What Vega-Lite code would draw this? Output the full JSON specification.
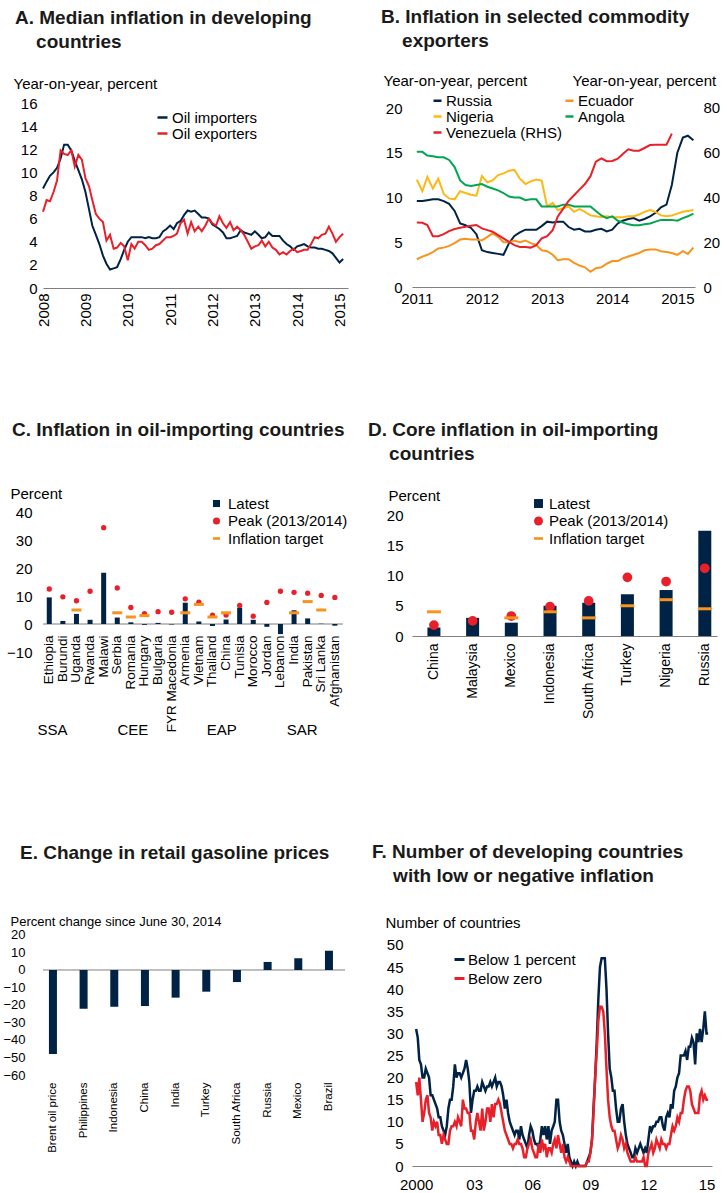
{
"$schema": "https://vega.github.io/schema/vega-lite/v6.json",
"autosize": {"type": "none"},
"padding": {"left": 43, "top": 103, "right": 684, "bottom": 1090},
"background": "white",
"columns": 2,
"bounds": "flush",
"spacing": {"row": 224, "column": 64},
"resolve": {"scale": {"color": "independent", "shape": "independent"}, "legend": {"color": "independent", "shape": "independent"}},
"config": {
 "font": "Liberation Sans",
 "view": {"stroke": null},
 "axis": {"grid": false, "ticks": false, "labelFontSize": 15, "labelColor": "#000000", "titleFontSize": 15, "titleFontWeight": "normal", "titleColor": "#000000", "domainColor": "#7f7f7f", "domainWidth": 1, "labelOverlap": false, "labelFlush": false, "labelBound": false},
 "axisY": {"domain": false, "titleAngle": 0, "titleAlign": "left", "titleBaseline": "middle"},
 "legend": {"labelFontSize": 15, "labelColor": "#000000", "padding": 0, "offset": 0},
 "title": {"fontSize": 19, "fontWeight": "bold", "color": "#1a1a1a", "anchor": "start", "frame": "group", "lineHeight": 24}
},
"concat": [
{
 "width": 305, "height": 185,
 "title": {"text": ["A. Median inflation in developing", "\u200b\u00a0\u00a0\u00a0\u00a0countries"], "dx": -28, "offset": 24},
 "data": {"values": [
{"d":"2008-01","importers":8.6,"exporters":6.6},{"d":"2008-02","importers":9.2,"exporters":7.6},{"d":"2008-03","importers":9.7,"exporters":7.5},{"d":"2008-04","importers":10.0,"exporters":8.3},{"d":"2008-05","importers":10.4,"exporters":9.3},{"d":"2008-06","importers":11.2,"exporters":11.9},{"d":"2008-07","importers":12.4,"exporters":11.6},{"d":"2008-08","importers":12.4,"exporters":11.5},{"d":"2008-09","importers":11.9,"exporters":11.9},{"d":"2008-10","importers":11.0,"exporters":10.5},{"d":"2008-11","importers":10.2,"exporters":11.5},{"d":"2008-12","importers":9.4,"exporters":11.1},
{"d":"2009-01","importers":8.3,"exporters":9.5},{"d":"2009-02","importers":6.8,"exporters":8.8},{"d":"2009-03","importers":5.4,"exporters":7.6},{"d":"2009-04","importers":4.6,"exporters":6.4},{"d":"2009-05","importers":3.8,"exporters":6.0},{"d":"2009-06","importers":2.8,"exporters":5.7},{"d":"2009-07","importers":2.1,"exporters":4.1},{"d":"2009-08","importers":1.6,"exporters":4.6},{"d":"2009-09","importers":1.7,"exporters":3.4},{"d":"2009-10","importers":1.8,"exporters":3.5},{"d":"2009-11","importers":2.5,"exporters":3.9},{"d":"2009-12","importers":3.3,"exporters":3.6},
{"d":"2010-01","importers":4.0,"exporters":2.4},{"d":"2010-02","importers":4.4,"exporters":3.8},{"d":"2010-03","importers":4.4,"exporters":3.4},{"d":"2010-04","importers":4.4,"exporters":4.0},{"d":"2010-05","importers":4.4,"exporters":4.0},{"d":"2010-06","importers":4.3,"exporters":3.7},{"d":"2010-07","importers":4.4,"exporters":3.3},{"d":"2010-08","importers":4.3,"exporters":3.4},{"d":"2010-09","importers":4.3,"exporters":3.7},{"d":"2010-10","importers":4.4,"exporters":3.8},{"d":"2010-11","importers":4.9,"exporters":4.1},{"d":"2010-12","importers":5.1,"exporters":4.4},
{"d":"2011-01","importers":5.4,"exporters":4.4},{"d":"2011-02","importers":5.1,"exporters":4.5},{"d":"2011-03","importers":5.6,"exporters":4.7},{"d":"2011-04","importers":5.8,"exporters":5.6},{"d":"2011-05","importers":6.3,"exporters":5.9},{"d":"2011-06","importers":6.7,"exporters":4.7},{"d":"2011-07","importers":6.6,"exporters":5.7},{"d":"2011-08","importers":6.7,"exporters":4.9},{"d":"2011-09","importers":6.4,"exporters":5.3},{"d":"2011-10","importers":6.1,"exporters":4.9},{"d":"2011-11","importers":6.1,"exporters":5.4},{"d":"2011-12","importers":6.0,"exporters":6.0},
{"d":"2012-01","importers":5.5,"exporters":5.6},{"d":"2012-02","importers":5.3,"exporters":5.4},{"d":"2012-03","importers":5.1,"exporters":6.2},{"d":"2012-04","importers":4.8,"exporters":5.6},{"d":"2012-05","importers":4.3,"exporters":5.2},{"d":"2012-06","importers":4.3,"exporters":5.7},{"d":"2012-07","importers":4.4,"exporters":5.0},{"d":"2012-08","importers":4.5,"exporters":5.3},{"d":"2012-09","importers":5.0,"exporters":5.0},{"d":"2012-10","importers":4.8,"exporters":4.6},{"d":"2012-11","importers":4.7,"exporters":4.0},{"d":"2012-12","importers":4.6,"exporters":3.4},
{"d":"2013-01","importers":4.9,"exporters":3.6},{"d":"2013-02","importers":4.6,"exporters":3.7},{"d":"2013-03","importers":4.3,"exporters":4.1},{"d":"2013-04","importers":4.4,"exporters":3.6},{"d":"2013-05","importers":4.8,"exporters":4.0},{"d":"2013-06","importers":4.5,"exporters":3.5},{"d":"2013-07","importers":4.5,"exporters":3.3},{"d":"2013-08","importers":4.5,"exporters":2.9},{"d":"2013-09","importers":4.1,"exporters":3.1},{"d":"2013-10","importers":3.8,"exporters":2.9},{"d":"2013-11","importers":3.6,"exporters":3.2},{"d":"2013-12","importers":3.3,"exporters":3.4},
{"d":"2014-01","importers":3.6,"exporters":3.1},{"d":"2014-02","importers":3.7,"exporters":3.2},{"d":"2014-03","importers":3.8,"exporters":3.3},{"d":"2014-04","importers":3.6,"exporters":3.3},{"d":"2014-05","importers":3.5,"exporters":3.8},{"d":"2014-06","importers":3.5,"exporters":4.4},{"d":"2014-07","importers":3.4,"exporters":4.3},{"d":"2014-08","importers":3.4,"exporters":4.6},{"d":"2014-09","importers":3.3,"exporters":4.7},{"d":"2014-10","importers":3.2,"exporters":5.3},{"d":"2014-11","importers":3.0,"exporters":4.7},{"d":"2014-12","importers":2.6,"exporters":4.0},
{"d":"2015-01","importers":2.2,"exporters":4.4},{"d":"2015-02","importers":2.5,"exporters":4.7}
 ]},
 "transform": [{"fold": ["importers", "exporters"], "as": ["series", "value"]}],
 "mark": {"type": "line", "strokeWidth": 2},
 "encoding": {
  "x": {"field": "d", "type": "temporal", "scale": {"type": "utc", "nice": false, "domain": [{"year": 2008, "month": 1, "date": 1, "utc": true}, {"year": 2015, "month": 3, "date": 15, "utc": true}]},
        "axis": {"title": null, "format": "%Y", "labelAngle": 270, "labelPadding": 5, "values": [{"year": 2008, "utc": true}, {"year": 2009, "utc": true}, {"year": 2010, "utc": true}, {"year": 2011, "utc": true}, {"year": 2012, "utc": true}, {"year": 2013, "utc": true}, {"year": 2014, "utc": true}, {"year": 2015, "utc": true}]}},
  "y": {"field": "value", "type": "quantitative", "scale": {"domain": [0, 16], "nice": false},
        "axis": {"values": [0, 2, 4, 6, 8, 10, 12, 14, 16], "title": "Year-on-year, percent", "titleX": -30, "titleY": -20, "labelPadding": 6}},
  "color": {"field": "series", "type": "nominal", "scale": {"domain": ["importers", "exporters"], "range": ["#002345", "#E8202A"]},
            "legend": {"title": null, "orient": "none", "legendX": 112, "legendY": 7, "labelExpr": "'Oil ' + datum.label", "symbolType": "stroke", "symbolStrokeWidth": 2.5, "symbolSize": 100, "labelOffset": 2, "rowPadding": 0}}
 }
},
{
 "width": 283, "height": 184,
 "title": {"text": ["B. Inflation in selected commodity", "\u200b\u00a0\u00a0\u00a0\u00a0exporters"], "dx": -31, "offset": 22},
 "layer": [
  {
   "data": {"values": [
{"d":"2011-01","Russia":9.6,"Ecuador":3.1,"Nigeria":12.0,"Angola":15.1},{"d":"2011-02","Russia":9.6,"Ecuador":3.4,"Nigeria":10.7,"Angola":15.1},{"d":"2011-03","Russia":9.7,"Ecuador":3.6,"Nigeria":12.3,"Angola":14.7},{"d":"2011-04","Russia":9.8,"Ecuador":3.9,"Nigeria":11.0,"Angola":14.6},{"d":"2011-05","Russia":9.8,"Ecuador":4.3,"Nigeria":12.1,"Angola":14.5},{"d":"2011-06","Russia":9.6,"Ecuador":4.4,"Nigeria":10.4,"Angola":14.5},{"d":"2011-07","Russia":9.3,"Ecuador":4.6,"Nigeria":9.9,"Angola":14.2},{"d":"2011-08","Russia":8.5,"Ecuador":4.9,"Nigeria":9.8,"Angola":13.4},{"d":"2011-09","Russia":7.1,"Ecuador":5.3,"Nigeria":10.7,"Angola":11.9},{"d":"2011-10","Russia":6.9,"Ecuador":5.4,"Nigeria":10.5,"Angola":11.4},{"d":"2011-11","Russia":6.6,"Ecuador":5.3,"Nigeria":10.3,"Angola":11.3},{"d":"2011-12","Russia":5.9,"Ecuador":5.3,"Nigeria":10.2,"Angola":11.4},
{"d":"2012-01","Russia":4.1,"Ecuador":5.2,"Nigeria":12.4,"Angola":11.5},{"d":"2012-02","Russia":3.9,"Ecuador":5.6,"Nigeria":11.7,"Angola":11.2},{"d":"2012-03","Russia":3.8,"Ecuador":6.0,"Nigeria":11.9,"Angola":11.0},{"d":"2012-04","Russia":3.7,"Ecuador":5.6,"Nigeria":12.5,"Angola":10.8},{"d":"2012-05","Russia":3.6,"Ecuador":5.0,"Nigeria":12.7,"Angola":10.5},{"d":"2012-06","Russia":4.9,"Ecuador":5.0,"Nigeria":13.0,"Angola":10.1},{"d":"2012-07","Russia":5.7,"Ecuador":5.2,"Nigeria":13.1,"Angola":10.0},{"d":"2012-08","Russia":6.1,"Ecuador":5.0,"Nigeria":12.1,"Angola":10.0},{"d":"2012-09","Russia":6.4,"Ecuador":5.2,"Nigeria":11.5,"Angola":9.7},{"d":"2012-10","Russia":6.4,"Ecuador":4.9,"Nigeria":11.8,"Angola":9.8},{"d":"2012-11","Russia":6.4,"Ecuador":4.7,"Nigeria":12.0,"Angola":9.8},{"d":"2012-12","Russia":6.8,"Ecuador":4.1,"Nigeria":11.9,"Angola":9.0},
{"d":"2013-01","Russia":7.3,"Ecuador":4.0,"Nigeria":9.0,"Angola":9.0},{"d":"2013-02","Russia":7.2,"Ecuador":3.6,"Nigeria":9.4,"Angola":9.0},{"d":"2013-03","Russia":7.3,"Ecuador":3.0,"Nigeria":8.6,"Angola":9.0},{"d":"2013-04","Russia":7.3,"Ecuador":3.1,"Nigeria":8.8,"Angola":9.2},{"d":"2013-05","Russia":6.7,"Ecuador":3.1,"Nigeria":9.0,"Angola":9.2},{"d":"2013-06","Russia":6.4,"Ecuador":2.7,"Nigeria":8.4,"Angola":9.0},{"d":"2013-07","Russia":6.5,"Ecuador":2.4,"Nigeria":8.7,"Angola":9.0},{"d":"2013-08","Russia":6.2,"Ecuador":2.2,"Nigeria":8.4,"Angola":9.0},{"d":"2013-09","Russia":6.2,"Ecuador":1.7,"Nigeria":8.0,"Angola":9.0},{"d":"2013-10","Russia":6.4,"Ecuador":2.1,"Nigeria":7.9,"Angola":8.5},{"d":"2013-11","Russia":6.5,"Ecuador":2.2,"Nigeria":7.8,"Angola":8.0},{"d":"2013-12","Russia":6.2,"Ecuador":2.6,"Nigeria":7.9,"Angola":7.7},
{"d":"2014-01","Russia":6.4,"Ecuador":2.9,"Nigeria":7.8,"Angola":7.9},{"d":"2014-02","Russia":7.1,"Ecuador":2.9,"Nigeria":7.8,"Angola":7.4},{"d":"2014-03","Russia":7.4,"Ecuador":3.2,"Nigeria":7.8,"Angola":7.2},{"d":"2014-04","Russia":7.6,"Ecuador":3.4,"Nigeria":7.9,"Angola":7.0},{"d":"2014-05","Russia":7.7,"Ecuador":3.6,"Nigeria":7.9,"Angola":6.9},{"d":"2014-06","Russia":7.4,"Ecuador":3.8,"Nigeria":8.1,"Angola":6.9},{"d":"2014-07","Russia":7.6,"Ecuador":4.1,"Nigeria":8.4,"Angola":7.0},{"d":"2014-08","Russia":7.9,"Ecuador":4.2,"Nigeria":8.6,"Angola":7.1},{"d":"2014-09","Russia":8.3,"Ecuador":4.2,"Nigeria":8.4,"Angola":7.3},{"d":"2014-10","Russia":8.9,"Ecuador":4.0,"Nigeria":8.0,"Angola":7.5},{"d":"2014-11","Russia":9.2,"Ecuador":3.9,"Nigeria":7.9,"Angola":7.5},{"d":"2014-12","Russia":11.4,"Ecuador":3.8,"Nigeria":8.0,"Angola":7.5},
{"d":"2015-01","Russia":15.0,"Ecuador":3.6,"Nigeria":8.2,"Angola":7.4},{"d":"2015-02","Russia":16.7,"Ecuador":4.0,"Nigeria":8.4,"Angola":7.7},{"d":"2015-03","Russia":16.9,"Ecuador":3.7,"Nigeria":8.5,"Angola":7.9},{"d":"2015-04","Russia":16.4,"Ecuador":4.4,"Nigeria":8.6,"Angola":8.2}
   ]},
   "transform": [{"fold": ["Russia", "Ecuador", "Nigeria", "Angola"], "as": ["series", "value"]}],
   "mark": {"type": "line", "strokeWidth": 2},
   "encoding": {
    "x": {"field": "d", "type": "temporal", "scale": {"type": "utc", "nice": false, "domain": [{"year": 2010, "month": 12, "date": 5, "utc": true}, {"year": 2015, "month": 4, "date": 10, "utc": true}]},
          "axis": {"title": null, "format": "%Y", "labelPadding": 4, "values": [{"year": 2011, "utc": true}, {"year": 2012, "utc": true}, {"year": 2013, "utc": true}, {"year": 2014, "utc": true}, {"year": 2015, "utc": true}]}},
    "y": {"field": "value", "type": "quantitative", "scale": {"domain": [0, 20.56], "nice": false},
          "axis": {"values": [0, 5, 10, 15, 20], "title": "Year-on-year, percent", "titleX": -29, "titleY": -23, "labelPadding": 10}},
    "color": {"field": "series", "type": "nominal", "scale": {"domain": ["Russia", "Nigeria", "Venezuela (RHS)", "Ecuador", "Angola"], "range": ["#002345", "#FDB813", "#E8202A", "#F7941D", "#00A651"]},
              "legend": {"title": null, "orient": "none", "legendX": 18, "legendY": -10, "columns": 2, "columnPadding": -2, "symbolType": "stroke", "symbolStrokeWidth": 2.5, "symbolSize": 64, "labelOffset": 1, "rowPadding": 0}}
   }
  },
  {
   "data": {"values": [
{"d":"2011-01","v":28.8},{"d":"2011-02","v":28.7},{"d":"2011-03","v":27.7},{"d":"2011-04","v":22.7},{"d":"2011-05","v":22.7},{"d":"2011-06","v":23.6},{"d":"2011-07","v":25.0},{"d":"2011-08","v":25.9},{"d":"2011-09","v":26.5},{"d":"2011-10","v":26.9},{"d":"2011-11","v":27.4},{"d":"2011-12","v":27.7},
{"d":"2012-01","v":26.2},{"d":"2012-02","v":25.4},{"d":"2012-03","v":24.7},{"d":"2012-04","v":23.2},{"d":"2012-05","v":21.7},{"d":"2012-06","v":20.2},{"d":"2012-07","v":18.7},{"d":"2012-08","v":17.9},{"d":"2012-09","v":17.9},{"d":"2012-10","v":17.6},{"d":"2012-11","v":18.7},{"d":"2012-12","v":21.7},
{"d":"2013-01","v":22.7},{"d":"2013-02","v":25.4},{"d":"2013-03","v":31.4},{"d":"2013-04","v":35.0},{"d":"2013-05","v":38.5},{"d":"2013-06","v":41.0},{"d":"2013-07","v":43.5},{"d":"2013-08","v":46.0},{"d":"2013-09","v":49.5},{"d":"2013-10","v":56.0},{"d":"2013-11","v":57.5},{"d":"2013-12","v":56.2},
{"d":"2014-01","v":56.3},{"d":"2014-02","v":57.3},{"d":"2014-03","v":59.4},{"d":"2014-04","v":61.5},{"d":"2014-05","v":60.9},{"d":"2014-06","v":60.9},{"d":"2014-07","v":62.1},{"d":"2014-08","v":63.4},{"d":"2014-09","v":63.5},{"d":"2014-10","v":63.6},{"d":"2014-11","v":63.6},{"d":"2014-12","v":68.5}
   ]},
   "mark": {"type": "line", "strokeWidth": 2},
   "encoding": {
    "x": {"field": "d", "type": "temporal"},
    "y": {"field": "v", "type": "quantitative", "scale": {"domain": [0, 82.2], "nice": false},
          "axis": {"orient": "right", "values": [0, 20, 40, 60, 80], "title": "Year-on-year, percent", "titleX": -123, "titleY": -23, "labelPadding": 8}},
    "color": {"datum": "Venezuela (RHS)", "scale": {"domain": ["Russia", "Nigeria", "Venezuela (RHS)", "Ecuador", "Angola"], "range": ["#002345", "#FDB813", "#E8202A", "#F7941D", "#00A651"]},
              "legend": {"title": null, "orient": "none", "legendX": 18, "legendY": -10, "columns": 2, "columnPadding": -2, "symbolType": "stroke", "symbolStrokeWidth": 2.5, "symbolSize": 64, "labelOffset": 1, "rowPadding": 0}}
   }
  }
 ],
 "resolve": {"scale": {"y": "independent"}}
},
{
 "width": 300, "height": 140,
 "title": {"text": "C. Inflation in oil-importing countries", "dx": -31, "offset": 46},
 "data": {"values": [
  {"c":"Ethiopia","latest":9.5,"peak":12.5},
  {"c":"Burundi","latest":1.1,"peak":9.7},
  {"c":"Uganda","latest":3.6,"peak":8.3,"target":5.0},
  {"c":"Rwanda","latest":1.5,"peak":11.7},
  {"c":"Malawi","latest":18.3,"peak":34.4},
  {"c":"Serbia","latest":2.3,"peak":12.9,"target":4.0},
  {"c":"Romania","latest":0.6,"peak":5.9,"target":2.5},
  {"c":"Hungary","latest":-0.3,"peak":3.7,"target":3.0},
  {"c":"Bulgaria","latest":0.4,"peak":4.4},
  {"c":"FYR Macedonia","latest":-0.2,"peak":4.2},
  {"c":"Armenia","latest":7.6,"peak":9.0,"target":4.0},
  {"c":"Vietnam","latest":0.9,"peak":7.8,"target":7.0},
  {"c":"Thailand","latest":-0.7,"peak":3.2,"target":2.5},
  {"c":"China","latest":1.6,"peak":3.2,"target":4.0},
  {"c":"Tunisia","latest":5.8,"peak":6.6},
  {"c":"Morocco","latest":1.5,"peak":2.8},
  {"c":"Jordan","latest":-1.0,"peak":7.7},
  {"c":"Lebanon","latest":-3.6,"peak":11.7},
  {"c":"India","latest":4.9,"peak":11.3,"target":4.0},
  {"c":"Pakistan","latest":2.0,"peak":11.0,"target":8.0},
  {"c":"Sri Lanka","latest":0.1,"peak":10.2,"target":5.0},
  {"c":"Afghanistan","latest":-0.6,"peak":9.5}
 ]},
 "layer": [
  {"data": {"values": [{}]}, "mark": {"type": "rule", "color": "#7f7f7f"},
   "encoding": {"y": {"datum": 0, "type": "quantitative", "scale": {"domain": [-10, 40], "nice": false}, "axis": {"values": [-10, 0, 10, 20, 30, 40], "title": "Percent", "titleX": -33, "titleY": -19, "labelPadding": 11}}}},
  {"mark": {"type": "bar"},
   "encoding": {
    "x": {"field": "c", "type": "nominal", "sort": null, "scale": {"paddingInner": 0.632, "paddingOuter": 0.346, "align": 0.4}, "axis": {"title": "SSA\u00a0\u00a0\u00a0\u00a0\u00a0\u00a0\u00a0\u00a0\u00a0\u00a0\u00a0\u00a0CEE\u00a0\u00a0\u00a0\u00a0\u00a0\u00a0\u00a0\u00a0\u00a0\u00a0\u00a0\u00a0\u00a0\u00a0EAP\u00a0\u00a0\u00a0\u00a0\u00a0\u00a0\u00a0\u00a0\u00a0\u00a0\u00a0\u00a0SAR", "labelAngle": 270, "offset": -20, "labelPadding": 3, "domain": false, "labelFontSize": 13.5, "titleX": -6, "titleY": 97, "titleAlign": "left", "titleBaseline": "middle", "titleAngle": 0}},
    "y": {"field": "latest", "type": "quantitative", "axis": {"values": [-10, 0, 10, 20, 30, 40], "title": "Percent", "titleX": -33, "titleY": -19, "labelPadding": 11}},
    "color": {"datum": "Latest", "scale": {"domain": ["Latest", "Peak (2013/2014)", "Inflation target"], "range": ["#002345", "#E8202A", "#F7941D"]},
              "legend": {"title": null, "orient": "none", "legendX": 166, "legendY": -16, "symbolSize": 50, "labelOffset": 4, "rowPadding": 1.5}}
   }},
  {"mark": {"type": "point", "filled": true, "opacity": 1, "size": 28},
   "encoding": {
    "x": {"field": "c", "type": "nominal", "sort": null},
    "y": {"field": "peak", "type": "quantitative", "axis": {"values": [-10, 0, 10, 20, 30, 40], "title": "Percent", "titleX": -33, "titleY": -19, "labelPadding": 11}},
    "color": {"datum": "Peak (2013/2014)", "scale": {"domain": ["Latest", "Peak (2013/2014)", "Inflation target"], "range": ["#002345", "#E8202A", "#F7941D"]},
              "legend": {"title": null, "orient": "none", "legendX": 166, "legendY": -16, "symbolSize": 50, "labelOffset": 4, "rowPadding": 1.5}},
    "shape": {"datum": "Peak (2013/2014)", "scale": {"domain": ["Latest", "Peak (2013/2014)", "Inflation target"], "range": ["square", "circle", "M-1,-0.375H1V0.375H-1Z"]},
              "legend": {"title": null, "orient": "none", "legendX": 166, "legendY": -16, "symbolSize": 50, "labelOffset": 4, "rowPadding": 1.5}}
   }},
  {"mark": {"type": "tick", "thickness": 3, "size": 10, "opacity": 1},
   "encoding": {
    "x": {"field": "c", "type": "nominal", "sort": null},
    "y": {"field": "target", "type": "quantitative", "axis": {"values": [-10, 0, 10, 20, 30, 40], "title": "Percent", "titleX": -33, "titleY": -19, "labelPadding": 11}},
    "color": {"datum": "Inflation target", "scale": {"domain": ["Latest", "Peak (2013/2014)", "Inflation target"], "range": ["#002345", "#E8202A", "#F7941D"]},
              "legend": {"title": null, "orient": "none", "legendX": 166, "legendY": -16, "symbolSize": 50, "labelOffset": 4, "rowPadding": 1.5}}
   }}
 ]
},
{
 "width": 305, "height": 124,
 "title": {"text": ["D. Core inflation in oil-importing", "\u200b\u00a0\u00a0\u00a0\u00a0countries"], "dx": -44, "offset": 24},
 "data": {"values": [
  {"c":"China","latest":1.4,"peak":1.8,"target":4.0},
  {"c":"Malaysia","latest":3.0,"peak":2.5},
  {"c":"Mexico","latest":2.2,"peak":3.3,"target":3.0},
  {"c":"Indonesia","latest":5.0,"peak":4.85,"target":4.0},
  {"c":"South Africa","latest":5.5,"peak":5.8,"target":3.0},
  {"c":"Turkey","latest":6.9,"peak":9.7,"target":5.0},
  {"c":"Nigeria","latest":7.6,"peak":9.0,"target":6.0},
  {"c":"Russia","latest":17.4,"peak":11.2,"target":4.5}
 ]},
 "layer": [
  {"mark": {"type": "bar"},
   "encoding": {
    "x": {"field": "c", "type": "nominal", "sort": null, "scale": {"paddingInner": 0.664, "paddingOuter": 0.273, "align": 0.73}, "axis": {"title": null, "labelAngle": 270, "labelPadding": 7, "labelFontSize": 14}},
    "y": {"field": "latest", "type": "quantitative", "scale": {"domain": [0, 20.5], "nice": false}, "axis": {"values": [0, 5, 10, 15, 20], "title": "Percent", "titleX": -24, "titleY": -17, "labelPadding": 9}},
    "color": {"datum": "Latest", "scale": {"domain": ["Latest", "Peak (2013/2014)", "Inflation target"], "range": ["#002345", "#E8202A", "#F7941D"]},
              "legend": {"title": null, "orient": "none", "legendX": 119, "legendY": -16, "symbolSize": 80, "labelOffset": 3, "rowPadding": 1.5}}
   }},
  {"mark": {"type": "point", "filled": true, "opacity": 1, "size": 95},
   "encoding": {
    "x": {"field": "c", "type": "nominal", "sort": null},
    "y": {"field": "peak", "type": "quantitative", "axis": {"values": [0, 5, 10, 15, 20], "title": "Percent", "titleX": -24, "titleY": -17, "labelPadding": 9}},
    "color": {"datum": "Peak (2013/2014)", "scale": {"domain": ["Latest", "Peak (2013/2014)", "Inflation target"], "range": ["#002345", "#E8202A", "#F7941D"]},
              "legend": {"title": null, "orient": "none", "legendX": 119, "legendY": -16, "symbolSize": 80, "labelOffset": 3, "rowPadding": 1.5}},
    "shape": {"datum": "Peak (2013/2014)", "scale": {"domain": ["Latest", "Peak (2013/2014)", "Inflation target"], "range": ["square", "circle", "M-1,-0.3H1V0.3H-1Z"]},
              "legend": {"title": null, "orient": "none", "legendX": 119, "legendY": -16, "symbolSize": 80, "labelOffset": 3, "rowPadding": 1.5}}
   }},
  {"mark": {"type": "tick", "thickness": 3, "size": 14, "opacity": 1},
   "encoding": {
    "x": {"field": "c", "type": "nominal", "sort": null},
    "y": {"field": "target", "type": "quantitative", "axis": {"values": [0, 5, 10, 15, 20], "title": "Percent", "titleX": -24, "titleY": -17, "labelPadding": 9}},
    "color": {"datum": "Inflation target", "scale": {"domain": ["Latest", "Peak (2013/2014)", "Inflation target"], "range": ["#002345", "#E8202A", "#F7941D"]},
              "legend": {"title": null, "orient": "none", "legendX": 119, "legendY": -16, "symbolSize": 80, "labelOffset": 3, "rowPadding": 1.5}}
   }}
 ]
},
{
 "width": 302, "height": 199,
 "title": {"text": "E. Change in retail gasoline prices", "dx": -23, "offset": 13},
 "data": {"values": [
  {"c":"Brent oil price","v":-48.0},{"c":"Philippines","v":-22.1},{"c":"Indonesia","v":-21.0},{"c":"China","v":-20.6},{"c":"India","v":-15.8},{"c":"Turkey","v":-12.4},{"c":"South Africa","v":-6.9},{"c":"Russia","v":4.6},{"c":"Mexico","v":6.7},{"c":"Brazil","v":11.0}
 ]},
 "layer": [
  {"data": {"values": [{}]}, "mark": {"type": "rule", "color": "#7f7f7f"},
   "encoding": {"y": {"datum": 0, "type": "quantitative", "scale": {"domain": [-60, 53.7], "nice": false}, "axis": {"values": [-60, -50, -40, -30, -20, -10, 0, 10, 20], "title": "Percent change since June 30, 2014", "titleX": -33, "titleY": 45, "titleFontSize": 13, "labelFontSize": 13, "labelPadding": 18}}}},
  {"mark": {"type": "bar", "color": "#002345"},
   "encoding": {
    "x": {"field": "c", "type": "nominal", "sort": null, "scale": {"paddingInner": 0.739, "paddingOuter": 0.293, "align": 0.33}, "axis": {"title": null, "labelAngle": 270, "labelPadding": 7, "labelFontSize": 11.5, "domain": false}},
    "y": {"field": "v", "type": "quantitative", "axis": {"values": [-60, -50, -40, -30, -20, -10, 0, 10, 20], "title": "Percent change since June 30, 2014", "titleX": -33, "titleY": 45, "titleFontSize": 13, "labelFontSize": 13, "labelPadding": 18}}
   }}
 ]
},
{
 "width": 300, "height": 290,
 "title": {"text": ["F. Number of developing countries", "\u200b\u00a0\u00a0\u00a0\u00a0with low or negative inflation"], "dx": -40, "offset": -10},
 "data": {"values": [
{"d":"2000-01","b1":31,"b0":19},{"d":"2000-02","b1":29,"b0":16},{"d":"2000-03","b1":24,"b0":20},{"d":"2000-04","b1":23,"b0":15},{"d":"2000-05","b1":20,"b0":10},{"d":"2000-06","b1":20,"b0":12},{"d":"2000-07","b1":22,"b0":15},{"d":"2000-08","b1":21,"b0":16},{"d":"2000-09","b1":20,"b0":12},{"d":"2000-10","b1":16,"b0":11},{"d":"2000-11","b1":16,"b0":8},{"d":"2000-12","b1":15,"b0":10},
{"d":"2001-01","b1":14,"b0":9},{"d":"2001-02","b1":13,"b0":10},{"d":"2001-03","b1":11,"b0":7},{"d":"2001-04","b1":11,"b0":7},{"d":"2001-05","b1":9,"b0":5},{"d":"2001-06","b1":8,"b0":7},{"d":"2001-07","b1":7,"b0":6},{"d":"2001-08","b1":9,"b0":5},{"d":"2001-09","b1":13,"b0":5},{"d":"2001-10","b1":15,"b0":8},{"d":"2001-11","b1":15,"b0":9},{"d":"2001-12","b1":18,"b0":9},
{"d":"2002-01","b1":23,"b0":10},{"d":"2002-02","b1":20,"b0":9},{"d":"2002-03","b1":21,"b0":11},{"d":"2002-04","b1":21,"b0":10},{"d":"2002-05","b1":20,"b0":9},{"d":"2002-06","b1":21,"b0":15},{"d":"2002-07","b1":22,"b0":13},{"d":"2002-08","b1":24,"b0":13},{"d":"2002-09","b1":22,"b0":12},{"d":"2002-10","b1":19,"b0":12},{"d":"2002-11","b1":12,"b0":8},{"d":"2002-12","b1":15,"b0":8},
{"d":"2003-01","b1":17,"b0":6},{"d":"2003-02","b1":17,"b0":10},{"d":"2003-03","b1":18,"b0":12},{"d":"2003-04","b1":17,"b0":10},{"d":"2003-05","b1":17,"b0":8},{"d":"2003-06","b1":19,"b0":13},{"d":"2003-07","b1":18,"b0":8},{"d":"2003-08","b1":17,"b0":10},{"d":"2003-09","b1":18,"b0":13},{"d":"2003-10","b1":18,"b0":13},{"d":"2003-11","b1":19,"b0":10},{"d":"2003-12","b1":18,"b0":14},
{"d":"2004-01","b1":19,"b0":11},{"d":"2004-02","b1":20,"b0":14},{"d":"2004-03","b1":18,"b0":14},{"d":"2004-04","b1":19,"b0":15},{"d":"2004-05","b1":19,"b0":14},{"d":"2004-06","b1":18,"b0":12},{"d":"2004-07","b1":16,"b0":10},{"d":"2004-08","b1":13,"b0":8},{"d":"2004-09","b1":15,"b0":7},{"d":"2004-10","b1":12,"b0":6},{"d":"2004-11","b1":10,"b0":5},{"d":"2004-12","b1":9,"b0":5},
{"d":"2005-01","b1":8,"b0":4},{"d":"2005-02","b1":7,"b0":5},{"d":"2005-03","b1":8,"b0":5},{"d":"2005-04","b1":8,"b0":6},{"d":"2005-05","b1":6,"b0":5},{"d":"2005-06","b1":9,"b0":5},{"d":"2005-07","b1":7,"b0":4},{"d":"2005-08","b1":6,"b0":2},{"d":"2005-09","b1":5,"b0":2},{"d":"2005-10","b1":4,"b0":4},{"d":"2005-11","b1":7,"b0":5},{"d":"2005-12","b1":9,"b0":6},
{"d":"2006-01","b1":8,"b0":4},{"d":"2006-02","b1":6,"b0":3},{"d":"2006-03","b1":5,"b0":2},{"d":"2006-04","b1":5,"b0":2},{"d":"2006-05","b1":4,"b0":5},{"d":"2006-06","b1":6,"b0":3},{"d":"2006-07","b1":9,"b0":6},{"d":"2006-08","b1":7,"b0":4},{"d":"2006-09","b1":9,"b0":5},{"d":"2006-10","b1":6,"b0":2},{"d":"2006-11","b1":9,"b0":4},{"d":"2006-12","b1":5,"b0":4},
{"d":"2007-01","b1":8,"b0":3},{"d":"2007-02","b1":9,"b0":5},{"d":"2007-03","b1":10,"b0":6},{"d":"2007-04","b1":15,"b0":4},{"d":"2007-05","b1":15,"b0":7},{"d":"2007-06","b1":10,"b0":5},{"d":"2007-07","b1":8,"b0":3},{"d":"2007-08","b1":7,"b0":5},{"d":"2007-09","b1":5,"b0":2},{"d":"2007-10","b1":3,"b0":1},{"d":"2007-11","b1":5,"b0":2},{"d":"2007-12","b1":2,"b0":1},
{"d":"2008-01","b1":1,"b0":0},{"d":"2008-02","b1":0,"b0":0},{"d":"2008-03","b1":1,"b0":0},{"d":"2008-04","b1":0,"b0":0},{"d":"2008-05","b1":1,"b0":0},{"d":"2008-06","b1":0,"b0":0},{"d":"2008-07","b1":0,"b0":0},{"d":"2008-08","b1":0,"b0":0},{"d":"2008-09","b1":0,"b0":0},{"d":"2008-10","b1":0,"b0":0},{"d":"2008-11","b1":1,"b0":1},{"d":"2008-12","b1":2,"b0":1},
{"d":"2009-01","b1":3,"b0":3},{"d":"2009-02","b1":6,"b0":6},{"d":"2009-03","b1":13,"b0":12},{"d":"2009-04","b1":20,"b0":20},{"d":"2009-05","b1":28,"b0":26},{"d":"2009-06","b1":38,"b0":33},{"d":"2009-07","b1":45,"b0":36},{"d":"2009-08","b1":47,"b0":36},{"d":"2009-09","b1":47,"b0":35},{"d":"2009-10","b1":47,"b0":30},{"d":"2009-11","b1":40,"b0":22},{"d":"2009-12","b1":30,"b0":15},
{"d":"2010-01","b1":22,"b0":11},{"d":"2010-02","b1":20,"b0":9},{"d":"2010-03","b1":17,"b0":8},{"d":"2010-04","b1":17,"b0":8},{"d":"2010-05","b1":13,"b0":6},{"d":"2010-06","b1":10,"b0":4},{"d":"2010-07","b1":10,"b0":5},{"d":"2010-08","b1":13,"b0":7},{"d":"2010-09","b1":14,"b0":6},{"d":"2010-10","b1":10,"b0":4},{"d":"2010-11","b1":7,"b0":5},{"d":"2010-12","b1":5,"b0":3},
{"d":"2011-01","b1":4,"b0":2},{"d":"2011-02","b1":3,"b0":1},{"d":"2011-03","b1":2,"b0":1},{"d":"2011-04","b1":2,"b0":1},{"d":"2011-05","b1":4,"b0":2},{"d":"2011-06","b1":3,"b0":1},{"d":"2011-07","b1":4,"b0":1},{"d":"2011-08","b1":5,"b0":1},{"d":"2011-09","b1":4,"b0":1},{"d":"2011-10","b1":3,"b0":2},{"d":"2011-11","b1":4,"b0":0},{"d":"2011-12","b1":3,"b0":0},
{"d":"2012-01","b1":6,"b0":3},{"d":"2012-02","b1":9,"b0":4},{"d":"2012-03","b1":8,"b0":5},{"d":"2012-04","b1":9,"b0":3},{"d":"2012-05","b1":9,"b0":4},{"d":"2012-06","b1":10,"b0":6},{"d":"2012-07","b1":10,"b0":5},{"d":"2012-08","b1":11,"b0":4},{"d":"2012-09","b1":11,"b0":6},{"d":"2012-10","b1":9,"b0":5},{"d":"2012-11","b1":8,"b0":5},{"d":"2012-12","b1":11,"b0":4},
{"d":"2013-01","b1":12,"b0":5},{"d":"2013-02","b1":11,"b0":5},{"d":"2013-03","b1":14,"b0":7},{"d":"2013-04","b1":13,"b0":9},{"d":"2013-05","b1":17,"b0":8},{"d":"2013-06","b1":18,"b0":9},{"d":"2013-07","b1":20,"b0":11},{"d":"2013-08","b1":21,"b0":10},{"d":"2013-09","b1":25,"b0":12},{"d":"2013-10","b1":25,"b0":12},{"d":"2013-11","b1":25,"b0":15},{"d":"2013-12","b1":26,"b0":17},
{"d":"2014-01","b1":24,"b0":18},{"d":"2014-02","b1":27,"b0":18},{"d":"2014-03","b1":27,"b0":17},{"d":"2014-04","b1":29,"b0":14},{"d":"2014-05","b1":28,"b0":13},{"d":"2014-06","b1":23,"b0":12},{"d":"2014-07","b1":30,"b0":12},{"d":"2014-08","b1":28,"b0":12},{"d":"2014-09","b1":31,"b0":16},{"d":"2014-10","b1":28,"b0":17},{"d":"2014-11","b1":31,"b0":15},{"d":"2014-12","b1":35,"b0":16},
{"d":"2015-01","b1":30,"b0":15},{"d":"2015-02","b1":30,"b0":15}
 ]},
 "transform": [{"fold": ["b1", "b0"], "as": ["series", "value"]}],
 "mark": {"type": "line", "strokeWidth": 2.5},
 "encoding": {
  "x": {"field": "d", "type": "temporal", "scale": {"type": "utc", "nice": false, "domain": [{"year": 1999, "month": 10, "date": 15, "utc": true}, {"year": 2015, "month": 4, "date": 15, "utc": true}]},
        "axis": {"title": null, "labelPadding": 11, "labelExpr": "utcyear(datum.value) == 2000 ? '2000' : utcFormat(datum.value, '%y')", "values": [{"year": 2000, "utc": true}, {"year": 2003, "utc": true}, {"year": 2006, "utc": true}, {"year": 2009, "utc": true}, {"year": 2012, "utc": true}, {"year": 2015, "utc": true}]}},
  "y": {"field": "value", "type": "quantitative", "scale": {"domain": [0, 65.6], "nice": false},
        "axis": {"values": [0, 5, 10, 15, 20, 25, 30, 35, 40, 45, 50], "title": "Number of countries", "titleX": -27, "titleY": 46, "labelPadding": 9}},
  "color": {"field": "series", "type": "nominal", "scale": {"domain": ["b1", "b0"], "range": ["#002345", "#E8202A"]},
            "legend": {"title": null, "orient": "none", "legendX": 40, "legendY": 76, "labelExpr": "datum.label == 'b1' ? 'Below 1 percent' : 'Below zero'", "symbolType": "stroke", "symbolStrokeWidth": 3, "symbolSize": 100, "labelOffset": 1, "rowPadding": 3}}
 }
}
]
}
